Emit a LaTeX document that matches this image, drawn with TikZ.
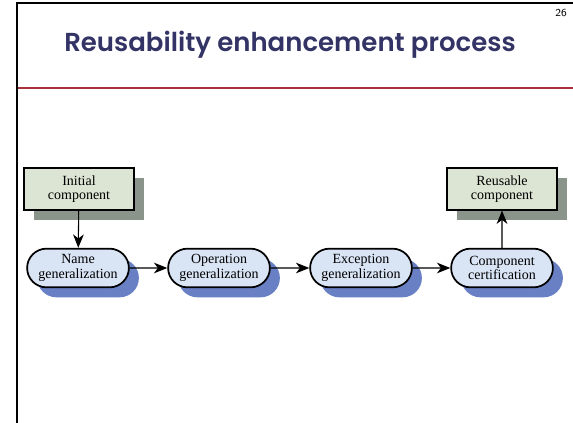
\documentclass[tikz,border=0pt]{standalone}
\usepackage{fontspec}
\setmainfont{Liberation Serif}
\newfontfamily\headfont{Poppins SemiBold}
\usetikzlibrary{arrows.meta,shadows,shapes.misc}

\definecolor{headblue}{HTML}{333366}
\definecolor{rulered}{HTML}{A8303C}
\definecolor{boxgreen}{HTML}{DCE5D3}
\definecolor{boxshade}{HTML}{8B948A}
\definecolor{stepblue}{HTML}{D9E4F5}
\definecolor{stepshade}{HTML}{6A80C4}

\tikzstyle{compbox}  = [rectangle, draw=black, line width=1.3pt, fill=boxgreen, minimum width=82pt, minimum height=31pt, align=center, font=\fontsize{10.5}{11}\selectfont, drop shadow={shadow xshift=7.5pt, shadow yshift=-7.5pt, fill=boxshade, opacity=1}]
\tikzstyle{activity} = [rounded rectangle, draw=black, line width=1.3pt, fill=stepblue, minimum width=83pt, minimum height=29pt, align=center, font=\fontsize{10.5}{11}\selectfont, drop shadow={shadow xshift=7.5pt, shadow yshift=-7.5pt, fill=stepshade, opacity=1}]
\tikzstyle{arrow}    = [line width=0.8pt, -{Stealth[length=10pt, width=8pt, inset=3pt]}]

\begin{document}
\begin{tikzpicture}[x=0.75pt, y=-0.75pt]
	\useasboundingbox (0,0) rectangle (573,423);

	% slide frame and header
	\draw[line width=1.5pt] (17,423) -- (17,3) -- (573,3);
	\node[font=\sffamily\fontsize{8}{9}\selectfont] (pageno) at (561,13) {26};
	\node[font=\headfont\fontsize{19.5}{24}\selectfont, text=headblue] (title) at (290,45) {Reusability enhancement process};
	\draw[rulered, line width=1.6pt] (18,88) -- (573,88);

	% components
	\node[compbox] (initial) at (79,189) {Initial\\component};
	\node[compbox] (reusable) at (502,189) {Reusable\\component};

	% process steps
	\node[activity] (name) at (78,268) {Name\\generalization};
	\node[activity] (oper) at (219,268) {Operation\\generalization};
	\node[activity] (exc) at (361,268) {Exception\\generalization};
	\node[activity] (cert) at (502,268) {Component\\certification};

	\draw[arrow] (initial) -- (name);
	\draw[arrow] (name) -- (oper);
	\draw[arrow] (oper) -- (exc);
	\draw[arrow] (exc) -- (cert);
	\draw[arrow] (cert) -- (reusable);
\end{tikzpicture}
\end{document}
